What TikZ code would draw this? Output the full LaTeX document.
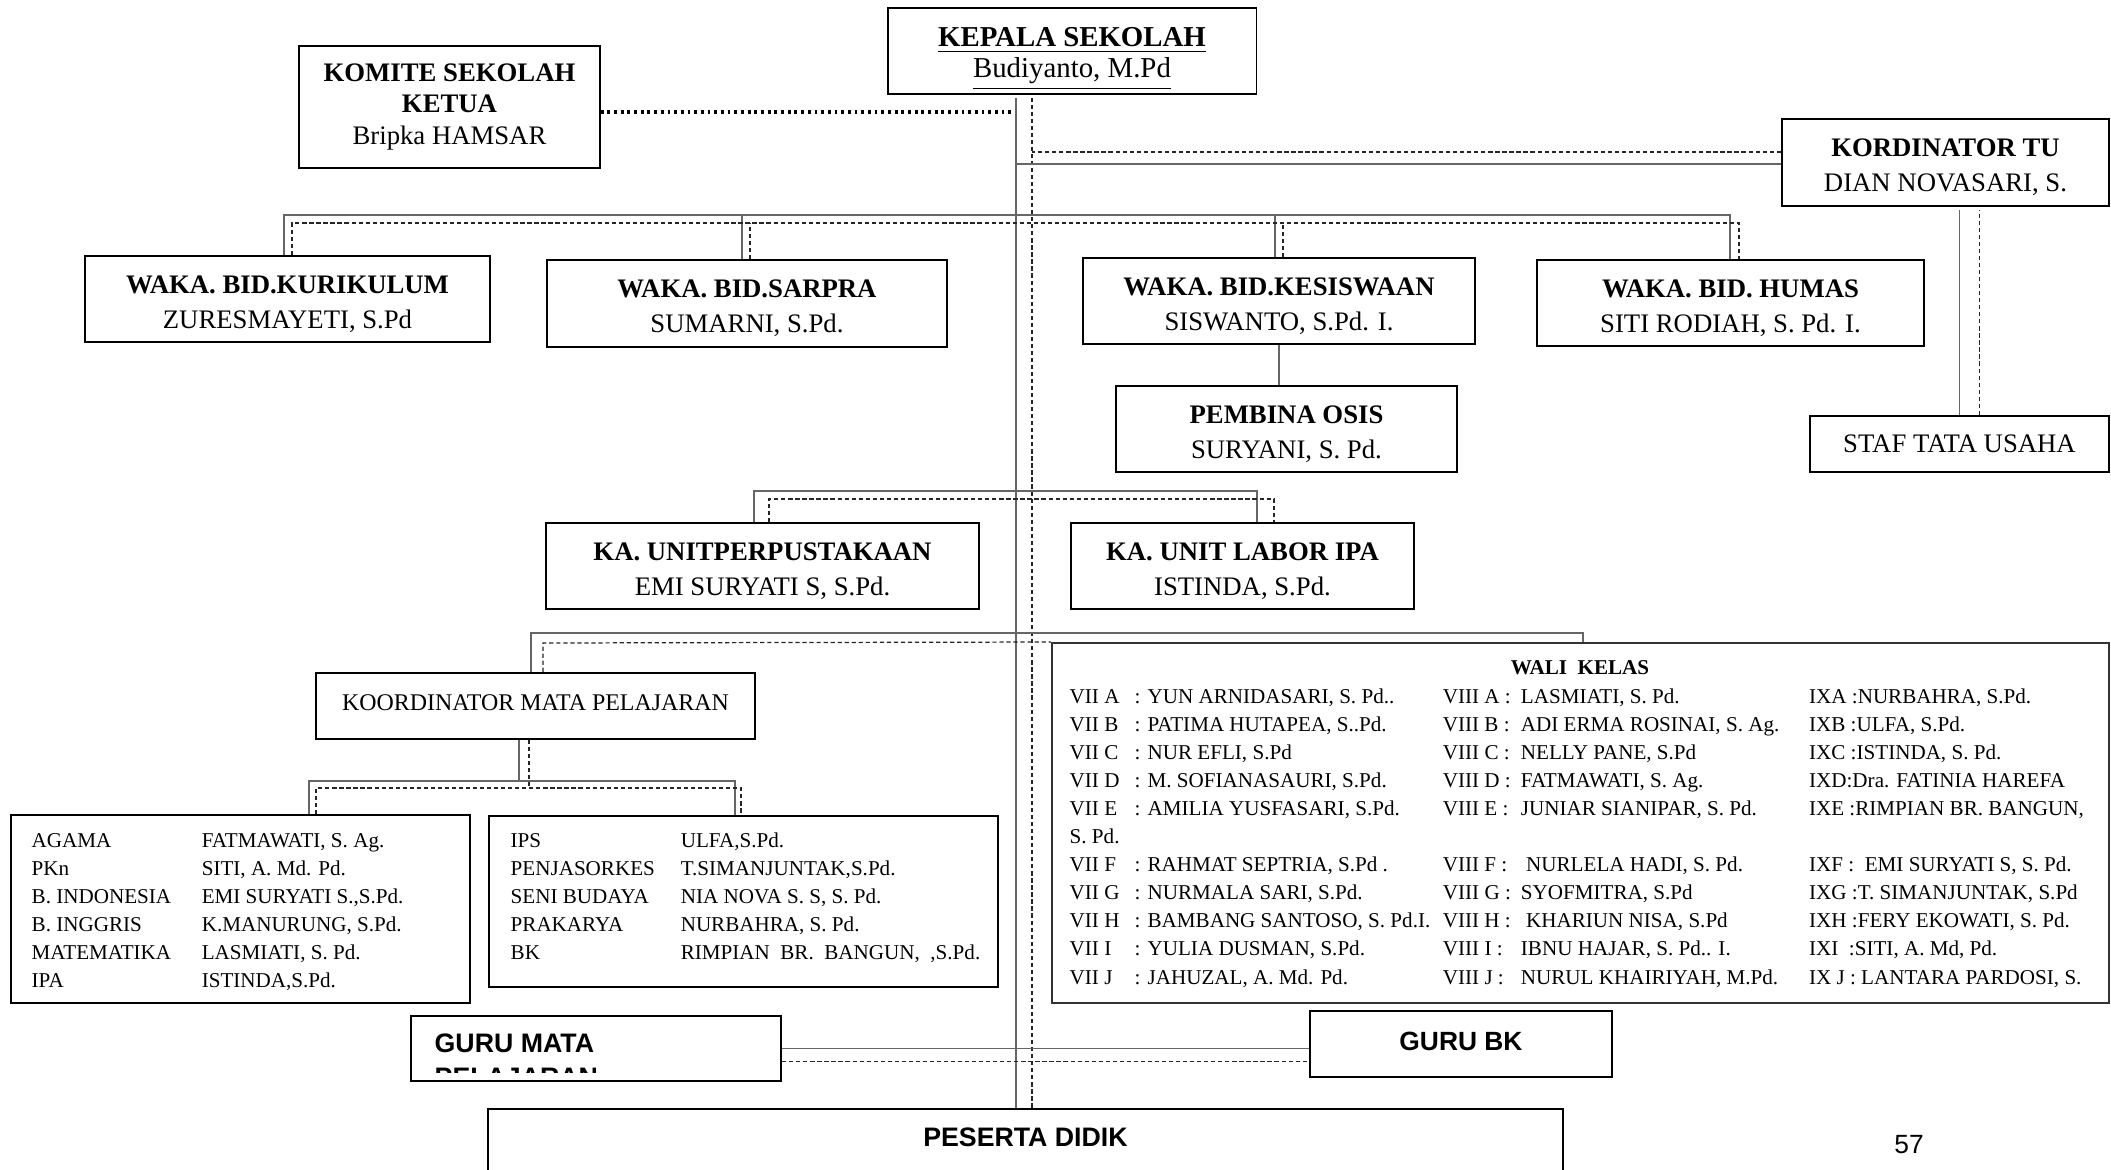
\documentclass[tikz,border=0pt]{standalone}
\usepackage{fontspec}
\setmainfont{Liberation Serif}
\newfontfamily\arialfont{Liberation Sans}
\usepackage{tikz}

\newcommand{\atas}{\rule{0pt}{7.8pt}}

\tikzset{
  jabatan/.style={draw, line width=0.6pt, align=center, inner sep=0pt,
    font=\fontsize{7.6}{10}\selectfont},
  garis/.style={draw=black!60, line width=0.45pt},
  putus/.style={draw=black!85, line width=0.35pt, dash pattern=on 1.2pt off 0.8pt},
  titik/.style={draw=black, line width=1pt, dash pattern=on 0.8pt off 1.1pt},
  daftar/.style={anchor=north west, inner sep=0pt, font=\fontsize{6}{7.97}\selectfont},
}

\begin{document}
\begin{tikzpicture}[x=0.01cm,y=-0.01cm]
  \useasboundingbox (0,0) rectangle (2111,1170);
  \clip (0,0) rectangle (2111,1170);
  \fill[white] (0,0) rectangle (2111,1170);

  \node[jabatan, line width=0.35pt, minimum width=3.68cm, minimum height=0.86cm,
    font=\fontsize{8.2}{8.8}\selectfont] (kepsek) at (1072,51)
    {\rule{0pt}{10pt}\underline{\textbf{KEPALA SEKOLAH}}\\\underline{Budiyanto, M.Pd}};
  \node[jabatan, line width=0.35pt, minimum width=3.01cm, minimum height=1.22cm,
    font=\fontsize{7.6}{8.9}\selectfont] (komite) at (449.5,107)
    {\textbf{KOMITE SEKOLAH}\\\textbf{KETUA}\\Bripka HAMSAR};
  \node[jabatan, minimum width=3.27cm, minimum height=0.87cm] (ktu) at (1945.5,162.5)
    {\atas\textbf{KORDINATOR TU}\\DIAN NOVASARI, S.};
  \node[jabatan, minimum width=2.99cm, minimum height=0.56cm] (staf) at (1959.5,444)
    {STAF TATA USAHA};

  \node[jabatan, minimum width=4.05cm, minimum height=0.86cm] (kurikulum) at (287.5,299)
    {\atas\textbf{WAKA. BID.KURIKULUM}\\ZURESMAYETI, S.Pd};
  \node[jabatan, minimum width=4.00cm, minimum height=0.87cm] (sarpra) at (747,303.5)
    {\atas\textbf{WAKA. BID.SARPRA}\\SUMARNI, S.Pd.};
  \node[jabatan, minimum width=3.92cm, minimum height=0.86cm] (kesiswaan) at (1279,301)
    {\atas\textbf{WAKA. BID.KESISWAAN}\\SISWANTO, S.Pd. I.};
  \node[jabatan, minimum width=3.87cm, minimum height=0.86cm] (humas) at (1730.5,303)
    {\atas\textbf{WAKA. BID. HUMAS}\\SITI RODIAH, S. Pd. I.};
  \node[jabatan, minimum width=3.41cm, minimum height=0.86cm] (pembina) at (1286.5,429)
    {\atas\textbf{PEMBINA OSIS}\\SURYANI, S. Pd.};

  \node[jabatan, minimum width=4.33cm, minimum height=0.86cm] (perpus) at (762.5,566)
    {\atas\textbf{KA. UNITPERPUSTAKAAN}\\EMI SURYATI S, S.Pd.};
  \node[jabatan, minimum width=3.43cm, minimum height=0.86cm] (labor) at (1242.5,566)
    {\atas\textbf{KA. UNIT LABOR IPA}\\ISTINDA, S.Pd.};
  \node[jabatan, minimum width=4.39cm, minimum height=0.66cm, text depth=2.2pt,
    font=\fontsize{6.8}{8}\selectfont] (koord) at (535.5,706)
    {KOORDINATOR MATA PELAJARAN};

  \node[jabatan, draw=black!80, line width=0.5pt, minimum width=10.57cm,
    minimum height=3.60cm] (wali) at (1580.5,823) {};
  \node[font=\bfseries\fontsize{6}{8}\selectfont] (walijudul) at (1580,668) {WALI\ \ KELAS};
  \node[daftar] (waliisi) at (1069,683.4) {%
    \begin{tabular}{@{}p{0.65cm}@{}p{3.08cm}@{}p{0.78cm}@{}p{2.88cm}@{}l@{}}
      VII A & : YUN ARNIDASARI, S. Pd.. & VIII A : & LASMIATI, S. Pd. & IXA :NURBAHRA, S.Pd.\\
      VII B & : PATIMA HUTAPEA, S..Pd. & VIII B : & ADI ERMA ROSINAI, S. Ag. & IXB :ULFA, S.Pd.\\
      VII C & : NUR EFLI, S.Pd & VIII C : & NELLY PANE, S.Pd & IXC :ISTINDA, S. Pd.\\
      VII D & : M. SOFIANASAURI, S.Pd. & VIII D : & FATMAWATI, S. Ag. & IXD:Dra. FATINIA HAREFA\\
      VII E & : AMILIA YUSFASARI, S.Pd. & VIII E : & JUNIAR SIANIPAR, S. Pd. & IXE :RIMPIAN BR. BANGUN,\\
      \multicolumn{5}{@{}l}{S. Pd.}\\
      VII F & : RAHMAT SEPTRIA, S.Pd . & VIII F : & \ NURLELA HADI, S. Pd. & IXF :\ \ EMI SURYATI S, S. Pd.\\
      VII G & : NURMALA SARI, S.Pd. & VIII G : & SYOFMITRA, S.Pd & IXG :T. SIMANJUNTAK, S.Pd\\
      VII H & : BAMBANG SANTOSO, S. Pd.I. & VIII H : & \ KHARIUN NISA, S.Pd & IXH :FERY EKOWATI, S. Pd.\\
      VII I & : YULIA DUSMAN, S.Pd. & VIII I : & IBNU HAJAR, S. Pd.. I. & IXI \ :SITI, A. Md, Pd.\\
      VII J & : JAHUZAL, A. Md. Pd. & VIII J : & NURUL KHAIRIYAH, M.Pd. & IX J : LANTARA PARDOSI, S.\\
    \end{tabular}};

  \node[jabatan, minimum width=4.59cm, minimum height=1.88cm] (mapelA) at (240.5,909) {};
  \node[daftar] (mapelAisi) at (31,827.4) {%
    \begin{tabular}{@{}p{1.70cm}@{}l@{}}
      AGAMA & FATMAWATI, S. Ag.\\
      PKn & SITI, A. Md. Pd.\\
      B. INDONESIA & EMI SURYATI S.,S.Pd.\\
      B. INGGRIS & K.MANURUNG, S.Pd.\\
      MATEMATIKA & LASMIATI, S. Pd.\\
      IPA & ISTINDA,S.Pd.\\
    \end{tabular}};
  \node[jabatan, minimum width=5.09cm, minimum height=1.71cm] (mapelB) at (743.5,901.5) {};
  \node[daftar] (mapelBisi) at (510,827.4) {%
    \begin{tabular}{@{}p{1.70cm}@{}l@{}}
      IPS & ULFA,S.Pd.\\
      PENJASORKES & T.SIMANJUNTAK,S.Pd.\\
      SENI BUDAYA & NIA NOVA S. S, S. Pd.\\
      PRAKARYA & NURBAHRA, S. Pd.\\
      BK & RIMPIAN\ \ BR.\ \ BANGUN,\ \ ,S.Pd.\\
    \end{tabular}};

  \node[jabatan, minimum width=3.70cm, minimum height=0.65cm] (gurumapel) at (596,1048.5) {};
  \begin{scope}
    \clip (gurumapel.north west) rectangle ([yshift=0.1cm]gurumapel.south east);
    \node[anchor=west, align=left, inner sep=0pt,
      font=\arialfont\bfseries\fontsize{7.6}{9.7}\selectfont] (gurumapelteks) at (434,1060)
      {GURU MATA\\PELAJARAN};
  \end{scope}
  \node[jabatan, minimum width=3.02cm, minimum height=0.66cm, text depth=1.6pt,
    font=\arialfont\bfseries\fontsize{7.5}{9}\selectfont] (gurubk) at (1461,1044) {GURU BK};
  \node[jabatan, anchor=north, minimum width=10.75cm, text height=0.375cm, text depth=1cm,
    font=\arialfont\bfseries\fontsize{7.6}{9}\selectfont] (peserta) at (1025.5,1108)
    {PESERTA DIDIK};
  \node[font=\arialfont\fontsize{7.5}{9}\selectfont] (halaman) at (1909,1145) {57};

  \coordinate (pusat) at (1016,0);
  \coordinate (pusatp) at (1032,0);
  \coordinate (bus) at (0,215);
  \coordinate (busp) at (0,223);
  \coordinate (ka1) at (754,491);
  \coordinate (ka2) at (1257,491);
  \coordinate (kb1) at (769,499);
  \coordinate (kb2) at (1274,499);
  \coordinate (kc1) at (531,633);
  \coordinate (kc2) at (1583,633);
  \coordinate (kd1) at (543,643);
  \coordinate (ko1) at (519,781);
  \coordinate (ko2) at (529,788);
  \coordinate (ma1) at (309,781);
  \coordinate (ma2) at (735,781);
  \coordinate (mb1) at (316,788);
  \coordinate (mb2) at (741,788);

  \draw[titik, shorten >=0.05cm] ([yshift=-0.05cm]komite.east) -- ([yshift=-0.05cm]komite.east -| pusat);
  \draw[garis] ([yshift=-0.03cm]kepsek.south -| pusat) -- (peserta.north -| pusat);
  \draw[putus] ([yshift=-0.03cm]kepsek.south -| pusatp) -- (peserta.north -| pusatp);

  \draw[garis] ([yshift=-0.015cm]ktu.west) -- ([yshift=-0.015cm]ktu.west -| pusat);
  \draw[putus] ([yshift=0.105cm]ktu.west) -- ([yshift=0.105cm]ktu.west -| pusatp);
  \draw[garis] (staf.north) -- ([yshift=-0.03cm]staf.north |- ktu.south);
  \draw[putus] ([xshift=0.2cm]staf.north) -- ([xshift=0.2cm,yshift=-0.03cm]staf.north |- ktu.south);

  \draw[garis] ([xshift=-0.035cm]kurikulum.north) -- ([xshift=-0.035cm]kurikulum.north |- bus)
    -- ([xshift=-0.005cm]humas.north |- bus) -- ([xshift=-0.005cm]humas.north);
  \draw[garis] ([xshift=-0.05cm]sarpra.north) -- ([xshift=-0.05cm]sarpra.north |- bus);
  \draw[garis] ([xshift=-0.04cm]kesiswaan.north) -- ([xshift=-0.04cm]kesiswaan.north |- bus);
  \draw[putus] ([xshift=0.045cm]kurikulum.north) -- ([xshift=0.045cm]kurikulum.north |- busp)
    -- ([xshift=0.085cm]humas.north |- busp) -- ([xshift=0.085cm]humas.north);
  \draw[putus] ([xshift=0.03cm]sarpra.north) -- ([xshift=0.03cm]sarpra.north |- busp);
  \draw[putus] ([xshift=0.04cm]kesiswaan.north) -- ([xshift=0.04cm]kesiswaan.north |- busp);
  \draw[garis] (kesiswaan.south) -- (kesiswaan.south |- pembina.north);

  \draw[garis] (perpus.north -| ka1) -- (ka1) -- (ka2) -- (labor.north -| ka2);
  \draw[putus] (perpus.north -| kb1) -- (kb1) -- (kb2) -- (labor.north -| kb2);

  \draw[garis] (koord.north -| kc1) -- (kc1) -- (kc2) -- (wali.north -| kc2);
  \draw[putus] (koord.north -| kd1) -- (kd1) -- (wali.north west);

  \draw[garis] (koord.south -| ko1) -- (ko1);
  \draw[putus] (koord.south -| ko2) -- (ko2);
  \draw[garis] (mapelA.north -| ma1) -- (ma1) -- (ma2) -- (mapelB.north -| ma2);
  \draw[putus] (mapelA.north -| mb1) -- (mb1) -- (mb2) -- (mapelB.north -| mb2);

  \draw[garis] (gurumapel.east) -- (gurumapel.east -| gurubk.west);
  \draw[putus] ([yshift=-0.13cm]gurumapel.east) -- ([yshift=-0.13cm]gurumapel.east -| gurubk.west);
\end{tikzpicture}
\end{document}
